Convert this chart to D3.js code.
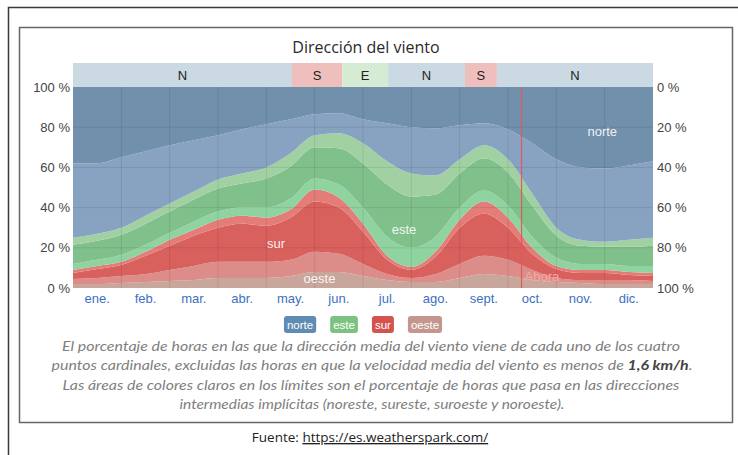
<!DOCTYPE html>
<html>
<head>
<meta charset="utf-8">
<script src="https://cdn.jsdelivr.net/npm/d3@7"></script>
<style>
  body { margin: 0; background: #fff; }
  svg { display: block; }
</style>
</head>
<body>
<svg id="chart"></svg>
<script>
// month labels and sample positions (in months from 1 Jan)
const months = ["ene.", "feb.", "mar.", "abr.", "may.", "jun.", "jul.", "ago.", "sept.", "oct.", "nov.", "dic."];
const samples = [0, 0.5, 1, 1.5, 2, 2.5, 3, 3.5, 4, 4.5, 5, 5.5, 6, 6.5, 7, 7.5, 8, 8.5, 9, 9.5, 10, 10.5, 11, 11.5, 12];

// % of hours, bottom to top of the stack (core + light intermediate parts)
const oeste     = [2, 2, 2.5, 3, 3.5, 4, 5, 5, 5, 6, 8, 8, 6, 4, 3, 3, 5, 7, 6, 4, 3, 2.5, 2, 2, 2];
const oesteSur  = [2.5, 3, 3.5, 4, 5.5, 7, 8, 8, 8, 8, 10, 9, 6, 3, 2, 4, 7, 9, 8, 5, 2, 1.5, 2, 2, 1.5];
const sur       = [3, 4.5, 5.5, 9, 12, 15, 17, 19, 18, 21, 25, 23, 16, 7, 4, 8.5, 18, 21, 16, 8, 4.5, 3.5, 3.5, 2.5, 2.5];
const surEste   = [1.5, 1.5, 1.5, 2, 3, 3, 4, 4, 4, 4, 6, 5, 4, 2, 1.5, 2.5, 4, 6, 5, 3, 1.5, 1.5, 1.5, 1.5, 1.5];
const esteSur   = [3, 3, 3.5, 3.5, 3.5, 4, 4, 4, 5, 5.5, 5.5, 6.5, 8, 9.5, 9.5, 7.5, 6, 5.5, 6, 5.5, 4, 3, 3, 3, 3.5];
const este      = [9.5, 9.5, 10, 10.5, 10.5, 11, 11.5, 12, 14.5, 16, 15.5, 18, 22, 26, 25.5, 21, 17, 16, 16.5, 15.5, 11, 9, 8.5, 9.5, 10];
const esteNorte = [3.5, 3.5, 3.5, 4, 4, 4, 4.5, 5, 5.5, 6.5, 6, 7.5, 10, 11.5, 11.5, 9.5, 7, 6.5, 6.5, 6, 4, 3, 2.5, 3.5, 4];
const norteEste = [37, 35, 35, 32, 29, 25.5, 22, 22, 21.5, 17, 10.5, 10, 12, 19, 23, 23.5, 17, 11, 15, 25, 34, 36, 36.5, 37, 38];
const norte     = [38, 38, 35, 32, 29, 26.5, 24, 21, 18.5, 16, 13.5, 13, 16, 18, 20, 20.5, 19, 18, 21, 28, 36, 40, 40.5, 39, 37];

// dominant direction band at the top
const bandLabels = ["N", "S", "E", "N", "S", "N"];
const bandStart  = [0, 4.53, 5.57, 6.52, 8.11, 8.77];
const bandEnd    = [4.53, 5.57, 6.52, 8.11, 8.77, 12];

const nowMonth = 9.28;
const yTicks = [0, 20, 40, 60, 80, 100];
const legendItems = ["norte", "este", "sur", "oeste"];

const layerKeys = ["oeste", "oesteSur", "sur", "surEste", "esteSur", "este", "esteNorte", "norteEste", "norte"];
const layerValues = [oeste, oesteSur, sur, surEste, esteSur, este, esteNorte, norteEste, norte];
const layerColor = {
  oeste: "#c9a69c", oesteSur: "#dd8d89", sur: "#d9615d", surEste: "#e47c78",
  esteSur: "#8fd3a0", este: "#80c08b", esteNorte: "#a1d1a3",
  norteEste: "#87a3c1", norte: "#7190ac"
};
const bandColor = { N: "#cbd9e3", S: "#efbfbd", E: "#d5ebd4" };
const legendColor = { norte: "#5f8bb4", este: "#7cc382", sur: "#d4534f", oeste: "#c4968d" };

const W = 738, H = 455;
const m = { left: 73, right: 653, top: 87, bottom: 288 };

const svg = d3.select("#chart").attr("width", W).attr("height", H)
  .style("font-family", "'Liberation Sans', Arial, sans-serif");

// frames
svg.append("path").attr("d", `M8.5,${H} V7.5 H${W}`)
  .attr("fill", "none").attr("stroke", "#3a3a3a").attr("stroke-width", 1.5);
svg.append("rect").attr("x", 19.5).attr("y", 27.5).attr("width", 713).attr("height", 395)
  .attr("fill", "#fff").attr("stroke", "#666").attr("stroke-width", 1.5);

const x = d3.scaleLinear().domain([0, 12]).range([m.left, m.right]);
const y = d3.scaleLinear().domain([0, 1]).range([m.bottom, m.top]);
const yPct = d3.scaleLinear().domain([0, 100]).range([m.bottom, m.top]);
const yPctR = d3.scaleLinear().domain([100, 0]).range([m.bottom, m.top]);
const xMonth = d3.scaleBand().domain(months).range([m.left, m.right]);

// title
svg.append("text").attr("x", 366).attr("y", 53).attr("text-anchor", "middle")
  .style("font-family", "'Open Sans', sans-serif").style("font-size", "16px").attr("fill", "#2a2a2a")
  .text("Dirección del viento");

// top band
const band = svg.append("g");
bandLabels.forEach((lab, i) => {
  band.append("rect").attr("x", x(bandStart[i])).attr("y", 63)
    .attr("width", x(bandEnd[i]) - x(bandStart[i])).attr("height", m.top - 63)
    .attr("fill", bandColor[lab]);
  band.append("text").attr("x", (x(bandStart[i]) + x(bandEnd[i])) / 2).attr("y", 80)
    .attr("text-anchor", "middle").style("font-size", "13px").attr("fill", "#222").text(lab);
});

// stacked areas
const rows = samples.map((t, i) => {
  const r = { t };
  layerKeys.forEach((k, j) => (r[k] = layerValues[j][i]));
  return r;
});
const series = d3.stack().keys(layerKeys).offset(d3.stackOffsetExpand)(rows);
const area = d3.area()
  .x(d => x(d.data.t))
  .y0(d => y(d[0]))
  .y1(d => y(d[1]))
  .curve(d3.curveMonotoneX);

svg.append("g").selectAll("path").data(series).join("path")
  .attr("d", area).attr("fill", d => layerColor[d.key]);

// grid
const grid = svg.append("g").attr("stroke", "#000").attr("stroke-opacity", 0.09).attr("stroke-width", 1);
d3.range(1, 12).forEach(i => {
  grid.append("line").attr("x1", x(i)).attr("x2", x(i)).attr("y1", m.top).attr("y2", m.bottom);
});
yTicks.filter(v => v > 0 && v < 100).forEach(v => {
  grid.append("line").attr("x1", m.left).attr("x2", m.right).attr("y1", yPct(v)).attr("y2", yPct(v));
});

// now line
svg.append("line").attr("x1", x(nowMonth)).attr("x2", x(nowMonth))
  .attr("y1", m.top).attr("y2", m.bottom).attr("stroke", "#e05a5a").attr("stroke-width", 1.2);
svg.append("text").attr("x", x(nowMonth) + 3).attr("y", 281).style("font-size", "13px")
  .attr("fill", "#f6a8a4").text("Ahora");

// series labels
const inLabels = [
  { text: "norte", t: 10.95, v: 0.78 },
  { text: "este", t: 6.85, v: 0.29 },
  { text: "sur", t: 4.2, v: 0.22 },
  { text: "oeste", t: 5.1, v: 0.05 }
];
svg.append("g").selectAll("text").data(inLabels).join("text")
  .attr("x", d => x(d.t)).attr("y", d => y(d.v)).attr("dy", "0.35em")
  .attr("text-anchor", "middle").style("font-size", "13px")
  .attr("fill", "#fff").attr("fill-opacity", 0.9).text(d => d.text);

// axes
const fmt = d => d + " %";
const leftAxis = svg.append("g").attr("transform", `translate(${m.left},0)`)
  .call(d3.axisLeft(yPct).tickValues(yTicks).tickFormat(fmt).tickSize(0).tickPadding(3));
const rightAxis = svg.append("g").attr("transform", `translate(${m.right},0)`)
  .call(d3.axisRight(yPctR).tickValues(yTicks).tickFormat(fmt).tickSize(0).tickPadding(4));
const bottomAxis = svg.append("g").attr("transform", `translate(0,${m.bottom})`)
  .call(d3.axisBottom(xMonth).tickSize(0).tickPadding(6));

[leftAxis, rightAxis, bottomAxis].forEach(a => {
  a.select(".domain").remove();
  a.selectAll("text").style("font-family", "'Liberation Sans', Arial, sans-serif").style("font-size", "13px");
});
leftAxis.selectAll("text").attr("fill", "#444");
rightAxis.selectAll("text").attr("fill", "#444");
bottomAxis.selectAll("text").attr("fill", "#3d6fc0");

// legend
const legend = svg.append("g");
const gap = 14, pad = 3;
const items = legendItems.map(k => {
  const t = legend.append("text").style("font-size", "11.5px").attr("fill", "#fff").text(k);
  return { k, t, w: t.node().getComputedTextLength() + 2 * pad };
});
const totalW = d3.sum(items, d => d.w) + gap * (items.length - 1);
let lx = 363 - totalW / 2;
items.forEach(it => {
  legend.insert("rect", "text").attr("x", lx).attr("y", 316).attr("width", it.w).attr("height", 17)
    .attr("rx", 3).attr("fill", legendColor[it.k]);
  it.t.attr("x", lx + pad).attr("y", 328.5);
  lx += it.w + gap;
});

// caption
const cap = svg.append("g").style("font-family", "Lato, sans-serif").style("font-style", "italic")
  .style("font-size", "13px").attr("fill", "#808080").attr("text-anchor", "middle");
const line1 = cap.append("text").attr("x", 371).attr("y", 351)
  .text("El porcentaje de horas en las que la dirección media del viento viene de cada uno de los cuatro");
const line2 = cap.append("text").attr("x", 372).attr("y", 370);
line2.append("tspan").text("puntos cardinales, excluidas las horas en que la velocidad media del viento es menos de ");
line2.append("tspan").attr("font-weight", "bold").attr("fill", "#444").text("1,6 km/h");
line2.append("tspan").text(".");
const line3 = cap.append("text").attr("x", 371).attr("y", 390)
  .text("Las áreas de colores claros en los límites son el porcentaje de horas que pasa en las direcciones");
const line4 = cap.append("text").attr("x", 372).attr("y", 409)
  .text("intermedias implícitas (noreste, sureste, suroeste y noroeste).");
[[line1, 618], [line2, 641], [line3, 617], [line4, 385]].forEach(([el, w]) => {
  el.attr("textLength", w).attr("lengthAdjust", "spacingAndGlyphs");
});

// source
const src = svg.append("text").attr("x", 370).attr("y", 442).attr("text-anchor", "middle")
  .style("font-family", "'Open Sans', sans-serif").style("font-size", "13.5px").attr("fill", "#222");
src.append("tspan").text("Fuente: ");
src.append("tspan").attr("text-decoration", "underline").text("https://es.weatherspark.com/");
</script>
</body>
</html>
